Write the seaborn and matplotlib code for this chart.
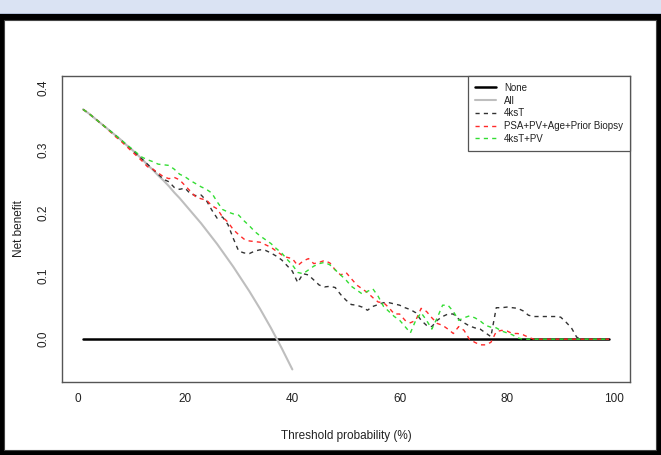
import numpy as np
import pandas as pd
import matplotlib
matplotlib.use("Agg")
import matplotlib.pyplot as plt
from matplotlib.patches import Rectangle
import seaborn as sns

# thresholds (%)
thresholds = list(range(1, 100))
thresholds_all = list(range(1, 41))

net_none = [0.0] * 99

net_all = [0.365, 0.359, 0.352, 0.345, 0.338, 0.331, 0.324, 0.317, 0.309, 0.302,
           0.294, 0.286, 0.277, 0.269, 0.260, 0.252, 0.243, 0.233, 0.224, 0.214,
           0.204, 0.194, 0.184, 0.173, 0.162, 0.151, 0.139, 0.127, 0.115, 0.102,
           0.089, 0.076, 0.062, 0.048, 0.033, 0.018, 0.002, -0.014, -0.031, -0.048]

net_4kst = [0.365, 0.359, 0.352, 0.345, 0.338, 0.331, 0.324, 0.317, 0.309, 0.302,
            0.294, 0.286, 0.278, 0.270, 0.262, 0.254, 0.250, 0.241, 0.238, 0.240,
            0.231, 0.228, 0.229, 0.220, 0.205, 0.192, 0.194, 0.182, 0.160, 0.140,
            0.137, 0.136, 0.140, 0.142, 0.141, 0.137, 0.132, 0.126, 0.117, 0.108,
            0.090, 0.104, 0.102, 0.094, 0.086, 0.083, 0.084, 0.082, 0.071, 0.062,
            0.055, 0.054, 0.051, 0.046, 0.052, 0.055, 0.058, 0.058, 0.056, 0.054,
            0.050, 0.047, 0.042, 0.030, 0.022, 0.020, 0.030, 0.036, 0.040, 0.040,
            0.032, 0.026, 0.021, 0.018, 0.016, 0.010, 0.004, 0.050, 0.050, 0.051,
            0.050, 0.049, 0.045, 0.038, 0.036, 0.036, 0.036, 0.036, 0.036, 0.035,
            0.027, 0.018, 0.003, 0.0, 0.0, 0.0, 0.0, 0.0, 0.0]

net_psa = [0.365, 0.359, 0.352, 0.345, 0.338, 0.330, 0.322, 0.315, 0.307, 0.299,
           0.291, 0.283, 0.274, 0.270, 0.264, 0.258, 0.255, 0.257, 0.253, 0.244,
           0.235, 0.226, 0.223, 0.221, 0.212, 0.207, 0.194, 0.186, 0.174, 0.166,
           0.159, 0.156, 0.155, 0.154, 0.150, 0.146, 0.140, 0.134, 0.130, 0.128,
           0.117, 0.124, 0.128, 0.120, 0.122, 0.125, 0.121, 0.110, 0.102, 0.106,
           0.096, 0.086, 0.080, 0.074, 0.066, 0.059, 0.058, 0.050, 0.040, 0.040,
           0.030, 0.026, 0.030, 0.049, 0.044, 0.034, 0.025, 0.022, 0.016, 0.009,
           0.020, 0.014, 0.000, -0.005, -0.009, -0.009, -0.005, 0.012, 0.014, 0.013,
           0.009, 0.009, 0.007, 0.003, 0.0, 0.0, 0.0, 0.0, 0.0, 0.0,
           0.0, 0.0, 0.0, 0.0, 0.0, 0.0, 0.0, 0.0, 0.0]

net_4kst_pv = [0.365, 0.359, 0.352, 0.345, 0.338, 0.331, 0.324, 0.317, 0.310, 0.303,
               0.296, 0.289, 0.285, 0.282, 0.278, 0.277, 0.276, 0.270, 0.262, 0.258,
               0.252, 0.247, 0.242, 0.238, 0.232, 0.218, 0.206, 0.202, 0.199, 0.197,
               0.188, 0.180, 0.171, 0.164, 0.158, 0.152, 0.144, 0.137, 0.127, 0.118,
               0.106, 0.104, 0.110, 0.116, 0.120, 0.122, 0.118, 0.110, 0.102, 0.094,
               0.084, 0.078, 0.072, 0.076, 0.080, 0.068, 0.052, 0.044, 0.036, 0.030,
               0.020, 0.010, 0.030, 0.042, 0.030, 0.016, 0.034, 0.054, 0.054, 0.044,
               0.030, 0.034, 0.037, 0.034, 0.029, 0.022, 0.019, 0.018, 0.013, 0.010,
               0.007, 0.002, 0.0, 0.0, 0.0, 0.0, 0.0, 0.0, 0.0, 0.0,
               0.0, 0.0, 0.0, 0.0, 0.0, 0.0, 0.0, 0.0, 0.0]

labels = ["None", "All", "4ksT", "PSA+PV+Age+Prior Biopsy", "4ksT+PV"]

sns.set_style("white")
plt.rcParams["font.family"] = ["Liberation Sans", "DejaVu Sans"]

W, H = 661, 455
fig = plt.figure(figsize=(W / 100, H / 100), dpi=100, facecolor="black")

# page background: blue band on top, white panel inside a black frame
fig.patches.append(Rectangle((0, (H - 14) / H), 1, 14 / H, transform=fig.transFigure,
                             facecolor="#dae3f3", edgecolor="none", zorder=-5))
fig.patches.append(Rectangle((0, (H - 14) / H), 1, 1.2 / H, transform=fig.transFigure,
                             facecolor="#b4c0d8", edgecolor="none", zorder=-5))
fig.patches.append(Rectangle((4 / W, (H - 450) / H), 652 / W, 430 / H,
                             transform=fig.transFigure, facecolor="white",
                             edgecolor="#444444", linewidth=0.8, zorder=-5))

ax = fig.add_axes([62 / W, (H - 382) / H, (630 - 62) / W, (382 - 76) / H])
ax.set_facecolor("white")
ax.set_zorder(2)

sns.lineplot(x=thresholds, y=net_none, ax=ax, color="black", linewidth=1.8,
             label=labels[0])
sns.lineplot(x=thresholds_all, y=net_all, ax=ax, color="#bebebe", linewidth=1.5,
             label=labels[1])
sns.lineplot(x=thresholds, y=net_4kst, ax=ax, color="#333333", linewidth=1.0,
             linestyle=(0, (3, 3)), label=labels[2])
sns.lineplot(x=thresholds, y=net_psa, ax=ax, color="#ff2a2a", linewidth=1.0,
             linestyle=(0, (3, 3)), label=labels[3])
sns.lineplot(x=thresholds, y=net_4kst_pv, ax=ax, color="#33dd33", linewidth=1.0,
             linestyle=(0, (3, 3)), label=labels[4])

ax.set_xlim(-2.92, 102.92)
ax.set_ylim(-0.068, 0.418)
ax.set_xticks([0, 20, 40, 60, 80, 100])
ax.set_yticks([0.0, 0.1, 0.2, 0.3, 0.4])
ax.set_yticklabels(["0.0", "0.1", "0.2", "0.3", "0.4"], rotation=90, va="center")

for s in ax.spines.values():
    s.set_visible(True)
    s.set_color("#555555")
    s.set_linewidth(1.0)

ax.tick_params(axis="both", direction="out", length=4, width=0.9, color="#555555",
               labelsize=8.5, labelcolor="#222222")
ax.tick_params(axis="x", pad=4)
ax.tick_params(axis="y", pad=5)

ax.set_xlabel("Threshold probability (%)", fontsize=8.5, color="#222222", labelpad=18)
ax.set_ylabel("Net benefit", fontsize=8.5, color="#222222", labelpad=9)

leg = ax.legend(loc="upper right", borderaxespad=0, fancybox=False, framealpha=1,
                edgecolor="#555555", fontsize=7, handlelength=2.2, labelspacing=0.28,
                borderpad=0.7, handletextpad=0.8)
leg.get_frame().set_linewidth(0.9)
for t in leg.get_texts():
    t.set_color("#222222")

fig.savefig("out.png", dpi=100, facecolor=fig.get_facecolor())
